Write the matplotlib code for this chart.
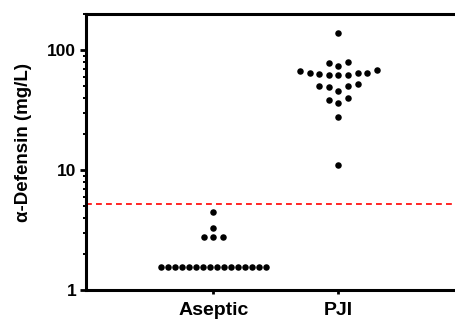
import numpy as np
import matplotlib
matplotlib.use("Agg")
import matplotlib.pyplot as plt
from matplotlib.ticker import LogLocator, FixedLocator, FixedFormatter, NullFormatter

plt.rcParams["font.family"] = ["Liberation Sans", "DejaVu Sans"]
plt.rcParams["font.weight"] = "bold"

# =====================
# DADOS
# =====================

grupos = ["Aseptic", "PJI"]

aseptic = [1.55] * 16 + [2.75, 2.75, 2.75, 3.3, 4.5]

pji = [139, 78, 74, 80,
       68, 64, 64, 61.6, 62, 61.6, 62.7, 64, 67,
       50.4, 49.2, 45.5, 50.4, 51.8,
       39.6, 36, 38.5,
       27.8, 11]

corte = 5.2

y_ticks = [1, 10, 100]
y_labels = ["1", "10", "100"]


# =====================
# BEESWARM SIMPLES (estilo GraphPad)
# =====================

def swarm(valores, centro, passo=0.077, largura_max=0.84, faixa=0.1, origem=0.045):
    valores = np.asarray(valores, dtype=float)
    linhas = np.floor((np.log10(valores) - origem) / faixa).astype(int)
    xs = np.zeros(len(valores))
    for linha in np.unique(linhas):
        idx = np.where(linhas == linha)[0]
        idx = idx[np.argsort(valores[idx], kind="stable")]
        n = len(idx)
        d = passo if n < 2 else min(passo, largura_max / (n - 1))
        if n % 2:
            slots = [0] + [s for k in range(1, n) for s in (-k, k)]
        else:
            slots = [s for k in range(n) for s in (-(k + 0.5), k + 0.5)]
        for j, i in enumerate(idx):
            xs[i] = centro + slots[j] * d
    return xs


fig = plt.figure(figsize=(4.55, 3.2), dpi=100)
ax = fig.add_axes([0.189, 0.094, 0.824, 0.862])

for pos, dados in zip([1, 2], [aseptic, pji]):
    ax.scatter(swarm(dados, pos), dados, s=22, color="black", zorder=3, linewidths=0)

ax.axhline(corte, color="red", lw=1.2, ls=(0, (3.5, 2.5)), zorder=2)

ax.set_yscale("log")
ax.set_ylim(1, 200)
ax.set_xlim(-0.02, 2.98)

ax.yaxis.set_major_locator(FixedLocator(y_ticks))
ax.yaxis.set_major_formatter(FixedFormatter(y_labels))
ax.yaxis.set_minor_locator(LogLocator(base=10, subs=np.arange(2, 10)))
ax.yaxis.set_minor_formatter(NullFormatter())

ax.set_xticks([1, 2])
ax.set_xticklabels(grupos, fontsize=14, fontweight="bold")

ax.tick_params(axis="y", which="major", length=4, width=2, labelsize=12.5, pad=3)
ax.tick_params(axis="y", which="minor", length=2.2, width=1.4)
ax.tick_params(axis="x", length=3, width=2, pad=6)

for lado in ["left", "bottom", "top"]:
    ax.spines[lado].set_linewidth(2.2)
ax.spines["right"].set_visible(False)

ax.set_ylabel("α-Defensin (mg/L)", fontsize=13.5, fontweight="bold")
ax.yaxis.set_label_coords(-0.143, 0.536)

fig.savefig("out.png", dpi=100)
